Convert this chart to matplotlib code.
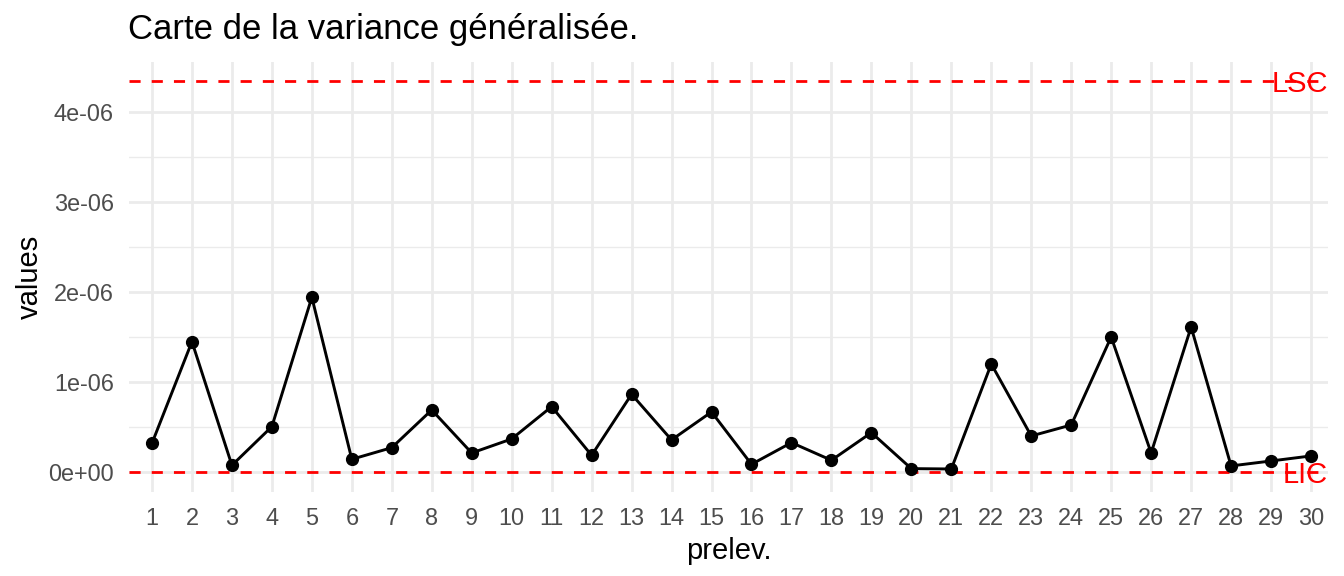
import matplotlib
matplotlib.use("Agg")
import matplotlib.pyplot as plt
from matplotlib.ticker import FixedLocator

prelev = list(range(1, 31))
values = [0.319e-6, 1.448e-6, 0.074e-6, 0.504e-6, 1.941e-6, 0.141e-6, 0.270e-6, 0.689e-6,
          0.211e-6, 0.367e-6, 0.726e-6, 0.185e-6, 0.863e-6, 0.356e-6, 0.667e-6, 0.085e-6,
          0.326e-6, 0.130e-6, 0.437e-6, 0.037e-6, 0.033e-6, 1.200e-6, 0.400e-6, 0.522e-6,
          1.500e-6, 0.211e-6, 1.611e-6, 0.067e-6, 0.122e-6, 0.178e-6]
LSC = 4.344e-6
LIC = 0.0
y_ticks = [0, 1e-6, 2e-6, 3e-6, 4e-6]
y_ticklabels = ["0e+00", "1e-06", "2e-06", "3e-06", "4e-06"]
y_minor = [0.5e-6, 1.5e-6, 2.5e-6, 3.5e-6]
title = "Carte de la variance généralisée."

plt.rcParams['font.family'] = ['Liberation Sans', 'DejaVu Sans']

fig = plt.figure(figsize=(13.44, 5.76), dpi=100)
ax = fig.add_axes([129/1344, 1 - 491.5/576, (1328 - 129)/1344, (491.5 - 61.5)/576])

for s in ax.spines.values():
    s.set_visible(False)

ax.set_xlim(0.425, 30.425)
span = LSC - LIC
ax.set_ylim(LIC - 0.05 * span, LSC + 0.05 * span)

ax.set_xticks(prelev)
ax.set_xticklabels([str(p) for p in prelev])
ax.yaxis.set_major_locator(FixedLocator(y_ticks))
ax.set_yticklabels(y_ticklabels)
ax.yaxis.set_minor_locator(FixedLocator(y_minor))

ax.grid(True, which='major', color='#EBEBEB', linewidth=2.0)
ax.grid(True, which='minor', axis='y', color='#EBEBEB', linewidth=1.0)
ax.set_axisbelow(True)
ax.tick_params(axis='both', which='both', length=0, labelsize=16.9, labelcolor='#4D4D4D')
ax.tick_params(axis='y', pad=11)
ax.tick_params(axis='x', pad=11)

ax.axhline(LSC, color='red', linestyle=(0, (4, 4)), linewidth=2.0, zorder=2)
ax.axhline(LIC, color='red', linestyle=(0, (4, 4)), linewidth=2.0, zorder=2)

ax.plot(prelev, values, color='black', linewidth=2.1, zorder=3)
ax.plot(prelev, values, 'o', color='black', markersize=8.5, zorder=4)

ax.text(30.425, LSC, "LSC", color='red', fontsize=21, ha='right', va='center_baseline', zorder=5)
ax.text(30.425, LIC, "LIC", color='red', fontsize=21, ha='right', va='center_baseline', zorder=5)

ax.set_xlabel("prelev.", fontsize=21, labelpad=5)
ax.set_ylabel("values", fontsize=21, labelpad=3)
fig.text(128/1344, 1 - 30/576, title, fontsize=25, ha='left', va='center')

fig.savefig("out.png", dpi=100)
